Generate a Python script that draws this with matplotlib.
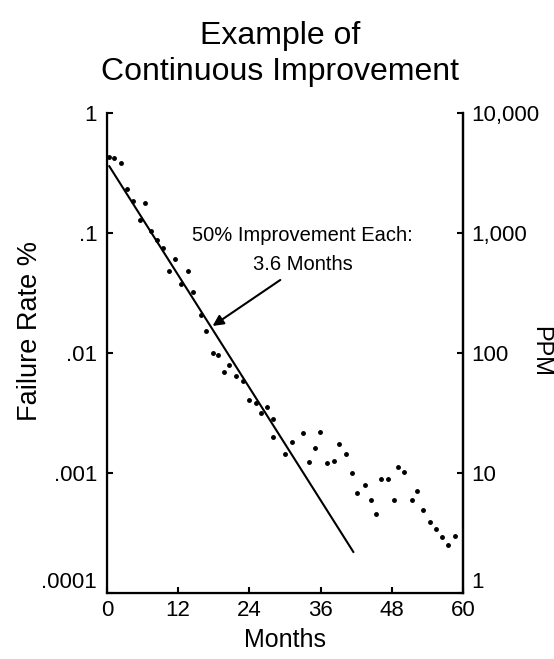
import matplotlib
matplotlib.use("Agg")
import matplotlib.pyplot as plt
from matplotlib.ticker import NullLocator, FixedLocator

plt.rcParams['font.family'] = ['Liberation Sans', 'DejaVu Sans']

# Observed failure rate (%) by month
months = [0.4, 1.2, 2.3, 3.3, 4.4, 6.4, 5.5, 7.4, 8.5, 9.5, 11.5, 10.5, 13.6, 12.5,
          14.5, 15.9, 16.7, 17.8, 18.7, 20.6, 19.7, 21.8, 23.0, 24.0, 25.1, 26.9,
          26.0, 27.9, 27.9, 31.2, 33.0, 30.0, 34.0, 35.9, 35.1, 39.1, 40.2, 37.1,
          38.2, 41.3, 43.5, 42.2, 44.4, 45.4, 46.2, 47.3, 48.4, 49.1, 50.1, 51.4,
          52.3, 53.3, 54.5, 55.5, 56.5, 57.5, 58.6]
failure_rate = [0.428, 0.419, 0.381, 0.231, 0.185, 0.177, 0.128, 0.104, 0.0875,
                0.0746, 0.0604, 0.0482, 0.0482, 0.0376, 0.0322, 0.0207, 0.0153,
                0.00994, 0.00962, 0.00794, 0.00695, 0.00643, 0.00585, 0.00404,
                0.00386, 0.00353, 0.00318, 0.0028, 0.0020, 0.00182, 0.00214,
                0.00143, 0.00123, 0.00221, 0.00161, 0.00175, 0.00145, 0.00121,
                0.00126, 0.0010, 0.000794, 0.000686, 0.000596, 0.000453, 0.000896,
                0.000891, 0.000596, 0.001115, 0.001014, 0.000596, 0.000708,
                0.000492, 0.000393, 0.000344, 0.000293, 0.000251, 0.000299]

# Fitted trend line (50% improvement each 3.6 months)
trend_months = [0.4, 41.5]
trend_rate = [0.36, 0.00022]

x_ticks = [0, 12, 24, 36, 48, 60]
left_ticks = [1, 0.1, 0.01, 0.001, 0.0001]
left_labels = ['1', '.1', '.01', '.001', '.0001']
right_ticks = [10000, 1000, 100, 10, 1]
right_labels = ['10,000', '1,000', '100', '10', '1']

fig = plt.figure(figsize=(5.54, 6.59), dpi=100)
ax = fig.add_axes([0.193, 0.1002, 0.643, 0.7283])

ax.plot(months, failure_rate, linestyle='none', marker='o', markersize=2.5,
        color='black')
ax.plot(trend_months, trend_rate, color='black', linewidth=1.5)

ax.set_yscale('log')
ax.set_xlim(0, 60)
ax.set_ylim(1e-4, 1)
ax.set_xticks(x_ticks)
ax.set_xticklabels([str(t) for t in x_ticks], fontsize=16)
ax.yaxis.set_major_locator(FixedLocator(left_ticks))
ax.set_yticklabels(left_labels, fontsize=16)
ax.yaxis.set_minor_locator(NullLocator())
ax.tick_params(axis='both', direction='in', length=4, width=1.5)
ax.tick_params(axis='x', pad=5)
ax.tick_params(axis='y', pad=7)
ax.spines['top'].set_visible(False)
for s in ['left', 'right', 'bottom']:
    ax.spines[s].set_linewidth(1.6)

ax2 = ax.twinx()
ax2.set_yscale('log')
ax2.set_ylim(1, 10000)
ax2.yaxis.set_major_locator(FixedLocator(right_ticks))
ax2.set_yticklabels(right_labels, fontsize=16)
ax2.yaxis.set_minor_locator(NullLocator())
ax2.tick_params(axis='y', direction='in', length=4, width=1.5, pad=6)
ax2.spines['top'].set_visible(False)
ax2.spines['right'].set_linewidth(1.6)

# bottom labels sit just above the baseline, as in the original
ax.get_yticklabels()[-1].set_va('bottom')
ax2.get_yticklabels()[-1].set_va('bottom')

ax.set_ylabel('Failure Rate %', fontsize=19.5)
ax.yaxis.set_label_coords(-0.216, 0.546)
ax.yaxis.label.set_va('center')
ax2.set_ylabel('PPM', fontsize=17, rotation=270)
ax2.yaxis.set_label_coords(1.216, 0.504)
ax2.yaxis.label.set_va('center')
ax.set_xlabel('Months', fontsize=18)
ax.xaxis.set_label_coords(0.5, -0.098)
ax.xaxis.label.set_va('center')

ax.text(33.0, 0.072, '50% Improvement Each:\n3.6 Months', ha='center',
        va='center', fontsize=14.5, linespacing=1.65)
ax.annotate('', xy=(17.8, 0.0168), xytext=(29.2, 0.0406), textcoords='data',
            arrowprops=dict(arrowstyle='-|>', color='black', lw=1.5,
                            mutation_scale=16, shrinkA=0, shrinkB=0))

fig.text(0.505, 0.918, 'Example of\nContinuous Improvement', ha='center',
         va='center', fontsize=23, linespacing=1.25)

fig.savefig('out.png', dpi=100)
